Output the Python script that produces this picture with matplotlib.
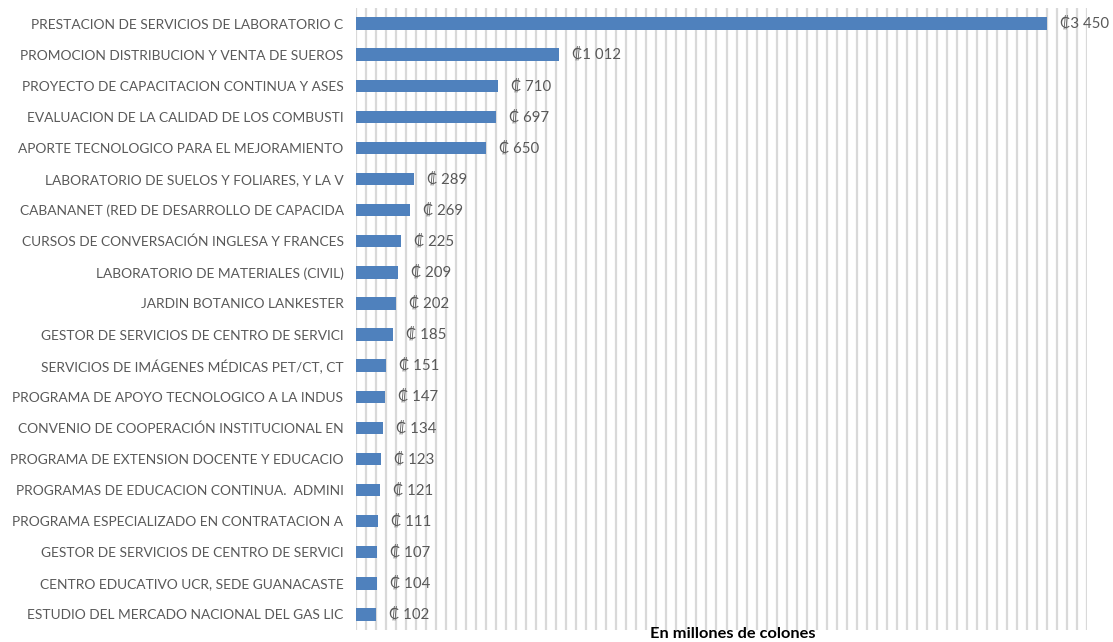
import matplotlib
matplotlib.use("Agg")
import matplotlib.pyplot as plt
import numpy as np

categories = [
    "PRESTACION DE SERVICIOS DE LABORATORIO C",
    "PROMOCION DISTRIBUCION Y VENTA DE SUEROS",
    "PROYECTO DE CAPACITACION CONTINUA Y ASES",
    "EVALUACION DE LA CALIDAD DE LOS COMBUSTI",
    "APORTE TECNOLOGICO PARA EL MEJORAMIENTO",
    "LABORATORIO DE SUELOS Y FOLIARES, Y LA V",
    "CABANANET (RED DE DESARROLLO DE CAPACIDA",
    "CURSOS DE CONVERSACIÓN INGLESA Y FRANCES",
    "LABORATORIO DE MATERIALES (CIVIL)",
    "JARDIN BOTANICO LANKESTER",
    "GESTOR DE SERVICIOS DE CENTRO DE SERVICI",
    "SERVICIOS DE IMÁGENES MÉDICAS PET/CT, CT",
    "PROGRAMA DE APOYO TECNOLOGICO A LA INDUS",
    "CONVENIO DE COOPERACIÓN INSTITUCIONAL EN",
    "PROGRAMA DE EXTENSION DOCENTE Y EDUCACIO",
    "PROGRAMAS DE EDUCACION CONTINUA.  ADMINI",
    "PROGRAMA ESPECIALIZADO EN CONTRATACION A",
    "GESTOR DE SERVICIOS DE CENTRO DE SERVICI",
    "CENTRO EDUCATIVO UCR, SEDE GUANACASTE",
    "ESTUDIO DEL MERCADO NACIONAL DEL GAS LIC",
]
values = [3450, 1012, 710, 697, 650, 289, 269, 225, 209, 202,
          185, 151, 147, 134, 123, 121, 111, 107, 104, 102]
axis_title = "En millones de colones"

def fmt(v):
    if v >= 1000:
        return "\u20a1" + f"{v:,}".replace(",", " ")
    return "\u20a1 " + str(v)

W, H = 1113, 642
fig = plt.figure(figsize=(W / 100, H / 100), dpi=100)
ax = fig.add_axes([356 / W, 1 - 630 / H, (1087 - 356) / W, (630 - 8) / H])

fam = ["Lato", "DejaVu Sans"]
y = np.arange(len(categories))
ax.barh(y, values, height=0.4, color="#4F81BD", zorder=3)
ax.set_ylim(len(categories) - 0.5, -0.5)
ax.set_xlim(0, 3650)
ax.set_xticks(np.arange(0, 3651, 50))
ax.xaxis.grid(True, color="#D9D9D9", linewidth=1.6, zorder=0)
ax.tick_params(axis="x", length=0, labelbottom=False)
ax.tick_params(axis="y", length=0, pad=9)
ax.set_yticks(y)
ax.set_yticklabels(categories, fontsize=9.9, color="#595959", family=fam)
for s in ax.spines.values():
    s.set_visible(False)

for yi, v in zip(y, values):
    ax.annotate(fmt(v), (v, yi), xytext=(13, 0), textcoords="offset pixels",
                va="center", ha="left", fontsize=10.8, color="#595959", family=fam)

fig.text(733 / W, 1 - 634 / H, axis_title, ha="center", va="center",
         fontsize=11.8, fontweight="bold", color="black", family=fam)

fig.savefig("out.png", dpi=100)
